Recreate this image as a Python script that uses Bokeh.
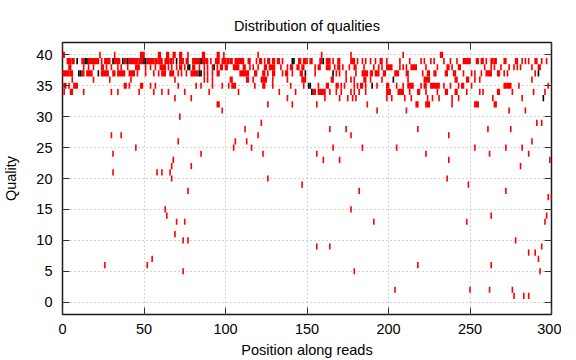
from bokeh.plotting import figure
from bokeh.models import ColumnDataSource, Range1d, FixedTicker, LinearAxis
from bokeh.embed import file_html
from bokeh.resources import INLINE

# ---- data: runs of occupied (position, quality) cells, (first_pos, last_pos) ----
red_q40 = [(0, 1), (23, 23), (32, 32), (48, 50), (59, 60), (64, 65), (68, 69), (72, 73), (77, 77),
           (86, 87), (95, 96), (99, 99), (120, 120), (159, 159), (177, 177), (209, 209), (232, 233)]
red_q39 = [(3, 5), (6, 7), (12, 13), (16, 22), (24, 24), (26, 29), (32, 35), (38, 39), (41, 44), (45, 46),
           (47, 49), (52, 56), (57, 58), (59, 61), (63, 65), (66, 67), (68, 68), (72, 74), (76, 77),
           (80, 84), (86, 87), (88, 89), (91, 91), (94, 96), (98, 100), (101, 102), (103, 104), (106, 109),
           (110, 111), (114, 115), (119, 119), (121, 122), (124, 124), (126, 127), (129, 130), (132, 133),
           (135, 135), (145, 146), (148, 149), (150, 150), (152, 153), (158, 159), (162, 164), (166, 166),
           (169, 170), (177, 179), (181, 181), (184, 184), (186, 186), (189, 189), (192, 192), (195, 196),
           (199, 199), (207, 207), (213, 213), (220, 220), (222, 222), (226, 226), (228, 228), (234, 234),
           (238, 238), (242, 242), (246, 250), (254, 255), (257, 258), (260, 260), (263, 264), (265, 266),
           (271, 272), (278, 279), (282, 282), (284, 284), (286, 286), (290, 291), (294, 294), (297, 297)]
red_q38 = [(4, 5), (13, 13), (16, 16), (19, 19), (24, 25), (27, 27), (30, 30), (34, 34), (36, 36), (40, 40),
           (45, 47), (51, 51), (54, 54), (57, 57), (60, 63), (65, 65), (67, 67), (70, 70), (72, 73), (75, 75),
           (80, 81), (84, 84), (87, 87), (89, 89), (92, 92), (95, 95), (97, 98), (100, 101), (105, 108),
           (111, 112), (115, 115), (117, 117), (120, 120), (124, 125), (127, 130), (134, 134), (138, 138),
           (140, 141), (144, 145), (147, 148), (155, 155), (157, 158), (162, 164), (167, 167), (169, 170),
           (172, 172), (176, 176), (179, 180), (185, 185), (191, 191), (194, 194), (196, 196), (199, 202),
           (207, 207), (209, 209), (211, 211), (214, 217), (223, 223), (230, 230), (236, 237), (239, 239),
           (243, 244), (259, 259), (263, 263), (265, 265), (269, 269), (274, 274), (277, 277), (279, 279),
           (281, 281), (288, 288), (292, 293)]
red_q37 = [(0, 4), (5, 6), (12, 13), (15, 18), (24, 28), (31, 32), (34, 38), (41, 44), (46, 46), (51, 51),
           (56, 56), (59, 59), (61, 63), (66, 68), (71, 71), (73, 73), (76, 76), (79, 83), (87, 87), (89, 89),
           (92, 92), (95, 96), (109, 114), (118, 119), (123, 124), (126, 126), (129, 130), (135, 135),
           (137, 138), (141, 141), (146, 147), (155, 155), (168, 168), (170, 170), (174, 174), (180, 180),
           (184, 187), (189, 190), (192, 194), (197, 198), (204, 206), (211, 212), (221, 221), (224, 225),
           (228, 229), (235, 236), (240, 241), (246, 246), (251, 251), (253, 253), (257, 257), (260, 263),
           (267, 268), (271, 271), (273, 273), (290, 290)]
red_q36 = [(6, 6), (19, 19), (29, 29), (42, 42), (69, 69), (87, 87), (89, 89), (92, 92), (103, 104),
           (113, 114), (117, 117), (122, 125), (129, 129), (138, 138), (147, 149), (165, 166), (174, 174),
           (177, 177), (179, 179), (185, 186), (189, 189), (196, 196), (212, 212), (222, 225), (241, 242),
           (248, 249), (253, 253), (256, 256), (288, 288)]
red_q35 = [(1, 2), (4, 4), (7, 9), (38, 39), (41, 41), (48, 49), (54, 54), (57, 57), (71, 71), (82, 82),
           (85, 85), (92, 92), (98, 98), (102, 102), (104, 106), (118, 118), (123, 124), (129, 129),
           (140, 140), (148, 148), (157, 157), (162, 163), (168, 169), (171, 171), (173, 173), (179, 179),
           (181, 181), (183, 184), (186, 186), (193, 193), (199, 200), (205, 205), (209, 209), (212, 215),
           (220, 220), (222, 223), (226, 231), (234, 234), (238, 238), (243, 243), (245, 246), (251, 251),
           (271, 275), (280, 280), (298, 298)]
red_q34 = [(1, 1), (5, 6), (13, 13), (30, 30), (34, 34), (47, 47), (56, 56), (61, 61), (65, 65), (75, 75),
           (90, 90), (108, 108), (133, 133), (143, 143), (154, 155), (157, 161), (164, 164), (168, 168),
           (171, 171), (177, 177), (179, 179), (182, 182), (186, 186), (199, 201), (206, 209), (213, 213),
           (218, 219), (223, 223), (230, 230), (235, 236), (241, 242), (248, 248), (256, 256), (258, 258),
           (267, 268), (276, 276), (289, 289), (296, 296)]
red_q33 = [(69, 69), (79, 79), (138, 138), (161, 161), (170, 170), (175, 175), (178, 178), (180, 180),
           (199, 199), (202, 202), (210, 210), (214, 214), (224, 224), (227, 227), (231, 231), (239, 239),
           (243, 243), (264, 264), (282, 282)]
red_q32 = [(95, 96), (126, 126), (141, 141), (156, 156), (187, 187), (217, 218), (223, 225), (239, 239),
           (253, 255), (265, 266)]
red_q31 = [(98, 98), (193, 193), (211, 211), (274, 274), (284, 284)]

# isolated low-quality cells: position, quality
low_pos = [26, 30, 31, 31, 36, 45, 52, 55, 58, 61, 63, 64, 66, 67, 67, 68, 69, 70, 71, 72, 74, 75, 74, 77,
           77, 79, 85, 105, 106, 112, 113, 116, 120, 122, 123, 126, 147, 156, 164, 156, 160, 164, 166, 170,
           174, 177, 177, 179, 182, 184, 191, 204, 205, 218, 218, 223, 237, 237, 236, 248, 249, 250, 253,
           261, 262, 262, 263, 263, 272, 272, 275, 276, 277, 278, 281, 282, 283, 286, 286, 288, 286, 290,
           292, 293, 294, 296, 297, 298, 299, 300, 291, 294]
low_qual = [6, 27, 21, 24, 27, 25, 6, 7, 21, 21, 15, 14, 21, 20, 22, 23, 11, 13, 26, 30, 5, 13, 10, 10,
            18, 22, 24, 25, 26, 28, 26, 25, 27, 29, 24, 20, 19, 9, 9, 24, 23, 28, 25, 23,
            28, 27, 15, 5, 18, 25, 13, 2, 25, 6, 28, 24, 27, 23, 20, 13, 19, 2, 25,
            28, 24, 2, 6, 14, 25, 18, 28, 2, 1, 10, 22, 25, 1, 24, 1, 26, 8, 8,
            7, 5, 9, 13, 14, 17, 23, 17, 29, 29]

# cells with the highest counts (drawn black): position, quality
black_pos = [9, 14, 15, 31, 37, 40, 50, 51, 70, 85, 141, 142, 160, 77, 78, 93, 10, 11, 22, 84, 85, 149,
             166, 292, 203, 151, 152, 190, 153, 295]
black_qual = [39, 39, 39, 39, 39, 39, 39, 39, 39, 39, 39, 39, 39, 38, 38, 38, 37, 37, 37, 37, 37, 37,
              37, 37, 36, 35, 35, 35, 34, 33]

x_ticks = [0, 50, 100, 150, 200, 250, 300]
y_ticks = [0, 5, 10, 15, 20, 25, 30, 35, 40]

# ---- build glyph sources ----
run_sets = [(40, red_q40), (39, red_q39), (38, red_q38), (37, red_q37), (36, red_q36),
            (35, red_q35), (34, red_q34), (33, red_q33), (32, red_q32), (31, red_q31)]
L, R, B, T = [], [], [], []
for q, runs in run_sets:
    for a, b in runs:
        L.append(a - 0.5); R.append(b + 0.5); B.append(q - 0.5); T.append(q + 0.5)
for pz, q in zip(low_pos, low_qual):
    L.append(pz - 0.5); R.append(pz + 0.5); B.append(q - 0.5); T.append(q + 0.5)
red_src = ColumnDataSource(dict(left=L, right=R, bottom=B, top=T))
blk_src = ColumnDataSource(dict(left=[v - 0.5 for v in black_pos], right=[v + 0.5 for v in black_pos],
                                bottom=[v - 0.5 for v in black_qual], top=[v + 0.5 for v in black_qual]))

FONT = "Liberation Sans"
FS = "14.5px"

p = figure(frame_width=489, frame_height=272, output_backend="svg", toolbar_location=None,
           x_range=Range1d(0, 300), y_range=Range1d(-2, 42),
           min_border_left=10, min_border_right=10, min_border_top=42, min_border_bottom=10,
           title="Distribution of qualities")
p.background_fill_color = "white"
p.border_fill_color = "white"
p.outline_line_color = "#1a1a1a"
p.outline_line_width = 1.5

p.title.align = "center"
p.title.vertical_align = "middle"
p.title.text_font = FONT
p.title.text_font_size = FS
p.title.text_font_style = "normal"
p.title.text_color = "black"
p.title.standoff = 15

p.quad(left="left", right="right", bottom="bottom", top="top", source=red_src,
       fill_color="#ff0000", line_color=None)
p.quad(left="left", right="right", bottom="bottom", top="top", source=blk_src,
       fill_color="#000000", line_color=None)

for ax in (p.xaxis[0], p.yaxis[0]):
    ax.axis_line_color = None
    ax.major_tick_in = 7
    ax.major_tick_out = 0
    ax.major_tick_line_color = "#333333"
    ax.minor_tick_line_color = None
    ax.major_label_text_font = FONT
    ax.major_label_text_font_size = FS
    ax.major_label_text_color = "black"
    ax.axis_label_text_font = FONT
    ax.axis_label_text_font_size = FS
    ax.axis_label_text_font_style = "normal"
    ax.axis_label_text_color = "black"

p.xaxis.ticker = FixedTicker(ticks=x_ticks)
p.yaxis.ticker = FixedTicker(ticks=y_ticks)
p.xaxis.axis_label = "Position along reads"
p.yaxis.axis_label = "Quality"
p.xaxis.major_label_standoff = 9
p.xaxis.axis_label_standoff = 5
p.yaxis.major_label_standoff = 10
p.yaxis.axis_label_standoff = 14

# mirrored ticks on top and right
for loc, tk, so in (("above", x_ticks, 13), ("right", y_ticks, 0)):
    ax = LinearAxis(ticker=FixedTicker(ticks=tk), axis_line_color=None, major_tick_in=7,
                    major_tick_out=0, major_tick_line_color="#333333", minor_tick_line_color=None,
                    major_label_text_font_size="1px", major_label_text_alpha=0, major_label_standoff=so)
    p.add_layout(ax, loc)

p.xgrid.ticker = FixedTicker(ticks=x_ticks)
p.ygrid.ticker = FixedTicker(ticks=y_ticks)
for g in (p.xgrid[0], p.ygrid[0]):
    g.grid_line_color = "#a8a8a8"
    g.grid_line_dash = "1 3"
    g.grid_line_width = 1

open("out.html", "w").write(file_html(p, INLINE))
